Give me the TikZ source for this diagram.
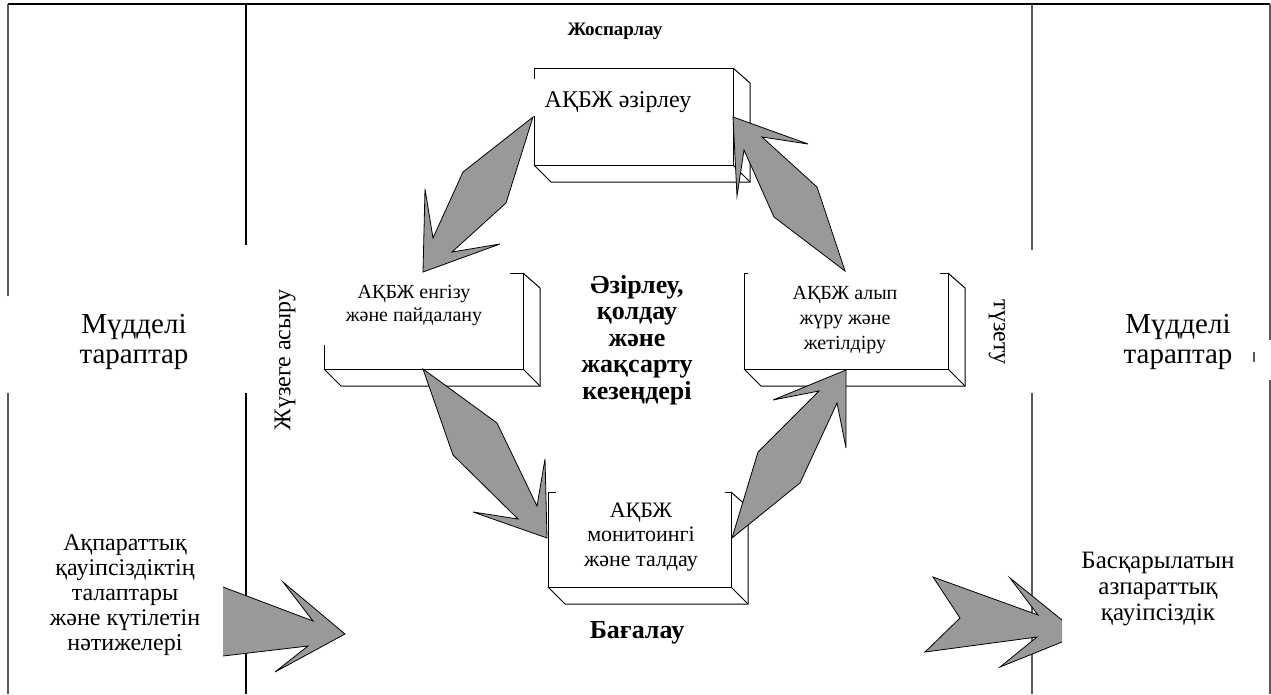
\documentclass[tikz,border=0pt]{standalone}
\usepackage{fontspec}
\setmainfont{Liberation Serif}
\definecolor{arrowgray}{RGB}{153,153,153}
\definecolor{linegray}{RGB}{90,90,90}
\begin{document}
\begin{tikzpicture}[x=1pt,y=-1pt,
  frameline/.style={line width=1.2pt, draw=black},
  grayline/.style={line width=1.6pt, draw=linegray},
  boxface/.style={draw, line width=1pt, fill=white, outer sep=0pt, inner sep=0pt},
  boxedge/.style={line width=1pt},
  blockarrow/.style={fill=arrowgray, draw=black, line width=0.8pt, line join=miter},
  arrowfill/.style={fill=arrowgray},
  arrowline/.style={draw=black, line width=0.8pt, line join=miter},
  boxtext/.style={font=\fontsize{20}{23}\selectfont, align=center, inner sep=0pt},
  bigtext/.style={font=\fontsize{29}{30}\selectfont, align=center, inner sep=0pt},
  sidetext/.style={font=\fontsize{24}{25}\selectfont, align=center, inner sep=0pt},
  boldtext/.style={font=\fontsize{26}{26.5}\selectfont\bfseries, align=center, inner sep=0pt}
]
\useasboundingbox (0,0) rectangle (1271,694);

% frame and dividers
\draw[grayline] (8,296) -- (8,4);
\draw[frameline] (8,4) -- (1270,4);
\draw[grayline] (1270,4) -- (1270,340);
\draw[grayline] (8,393) -- (8,694);
\draw[grayline] (1270,380) -- (1270,694);
\draw[grayline] (1254,352) -- (1254,362);
\draw[frameline] (246,4) -- (246,245);
\draw[frameline] (246,393) -- (246,694);
\draw[grayline] (1032,4) -- (1032,250);
\draw[grayline] (1032,393) -- (1032,694);

% boxes (front faces)
\node[boxface, minimum width=199pt, minimum height=97pt] (b1) at (633.5,116.5) {};
\node[boxface, minimum width=199pt, minimum height=96pt] (b2) at (423.5,321) {};
\node[boxface, minimum width=204pt, minimum height=96pt] (b3) at (846,321) {};
\node[boxface, minimum width=183pt, minimum height=95pt] (b4) at (639.5,539.5) {};

% 3D sides
\foreach \b in {b1,b2,b3,b4}{
  \draw[boxedge] (\b.north east) -- ++(17,15) |- ([shift={(17,17)}]\b.south west) -- (\b.south west);
  \draw[boxedge] (\b.south east) -- ++(17,17);
}

% white patches (text backgrounds hiding edges)
\fill[white] (532,79) rectangle (537,116);
\fill[white] (323,265) rectangle (510,345);
\fill[white] (748,265) rectangle (940,290);
\fill[white] (556,484) rectangle (725,505);

% box texts
\node[boxtext, font=\fontsize{24}{25}\selectfont] (t1) at (618,102) {АҚБЖ әзірлеу};
\node[boxtext] (t2) at (414,306) {АҚБЖ енгізу\\және пайдалану};
\node[boxtext, font=\fontsize{20}{25}\selectfont] (t3) at (845,320) {АҚБЖ алып\\жүру және\\жетілдіру};
\node[boxtext, font=\fontsize{22}{24.5}\selectfont] (t4) at (641,537) {АҚБЖ\\монитоингі\\және талдау};

% block arrows
\draw[blockarrow] (533,117) -- (463,172) -- (433,238) -- (425,189) -- (423,272) -- (500,244) -- (452,252) -- (506,203) -- cycle;
\draw[blockarrow] (423,369) -- (497,423) -- (537,506) -- (545,459) -- (547,538) -- (473,512) -- (518,519) -- (453,455) -- cycle;
\draw[blockarrow] (732,538) -- (800,483) -- (837,403) -- (846,448) -- (846,370) -- (773,400) -- (819,391) -- (758,452) -- cycle;
\draw[blockarrow] (845,271) -- (817,187) -- (762,137) -- (808,144) -- (733,117) -- (737,196) -- (744,150) -- (774,217) -- cycle;

% bottom arrows (clipped by text backgrounds)
\fill[arrowfill] (223,587) -- (313,621) -- (283,582) -- (345,634) -- (275,672) -- (308,646) -- (223,656) -- cycle;
\draw[arrowline] (223,587) -- (313,621) -- (283,582) -- (345,634) -- (275,672) -- (308,646) -- (223,656);
\fill[arrowfill] (933,577) -- (1038,615) -- (1010,578) -- (1062,620) -- (1062,642) -- (1000,667) -- (1037,637) -- (925,652) -- (960,618) -- cycle;
\draw[arrowline] (1062,620) -- (1010,578) -- (1038,615) -- (933,577) -- (960,618) -- (925,652) -- (1037,637) -- (1000,667) -- (1062,642);

% labels
\node[font=\fontsize{19}{20}\selectfont\bfseries, inner sep=0pt] (plan) at (615,31) {Жоспарлау};
\node[boldtext] (centre) at (637,340) {Әзірлеу,\\қолдау\\және\\жақсарту\\кезеңдері};
\node[boldtext] (eval) at (637,633) {Бағалау};
\node[sidetext, rotate=90] (impl) at (285,360) {Жүзеге асыру};
\node[sidetext, rotate=-90] (corr) at (997,332) {түзету};
\node[bigtext] (stakeL) at (134,342) {Мүдделі\\тараптар};
\node[bigtext] (stakeR) at (1178,342) {Мүдделі\\тараптар};
\node[sidetext] (req) at (125,595) {Ақпараттық\\қауіпсіздіктің\\талаптары\\және күтілетін\\нәтижелері};
\node[sidetext, font=\fontsize{25}{26}\selectfont] (res) at (1158,589) {Басқарылатын\\азпараттық\\қауіпсіздік};
\end{tikzpicture}
\end{document}
